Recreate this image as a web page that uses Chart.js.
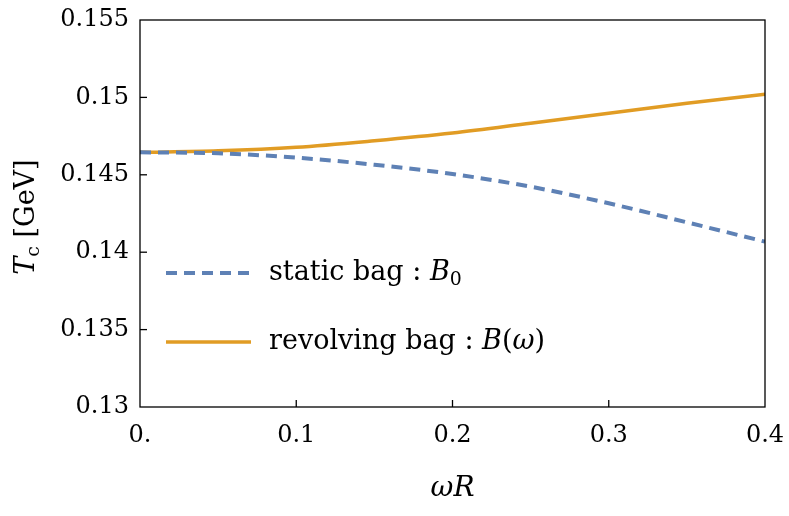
<!DOCTYPE html>
<html lang="en">
<head>
    <meta charset="UTF-8">
    <title>Tc vs omega R</title>
    <style>
        body { margin: 0; background: #fff; }
        canvas { display: block; }
    </style>
</head>
<body>
    <canvas id="myChart" width="789" height="516"></canvas>

    <script src="https://cdn.jsdelivr.net/npm/chart.js"></script>
    <script>
        // data
        const omegaR = [0, 0.05, 0.1, 0.15, 0.2, 0.25, 0.3, 0.35, 0.4];
        const tcStatic = [0.14645, 0.14639, 0.14611, 0.14565, 0.14505, 0.14423, 0.14316, 0.14193, 0.14068];
        const tcRevolving = [0.14645, 0.14655, 0.14678, 0.1472, 0.1477, 0.14833, 0.14897, 0.14962, 0.1502];
        const xTicks = [0, 0.1, 0.2, 0.3, 0.4];
        const yTicks = [0.13, 0.135, 0.14, 0.145, 0.15, 0.155];

        const BLUE = '#5e81b5';
        const ORANGE = '#e19c24';
        const SERIF = '"DejaVu Serif", "Liberation Serif", serif';
        const FS = 24;   // tick labels
        const FS_TEXT = 27; // legend and titles

        // draws a run of text pieces with mixed styles, returns width
        function drawPieces(ctx, pieces, x, y, size, measureOnly) {
            let cx = x;
            pieces.forEach(p => {
                const s = p.sub ? size * 0.7 : size;
                ctx.font = (p.italic ? 'italic ' : '') + s + 'px ' + SERIF;
                if (!measureOnly) {
                    ctx.fillText(p.t, cx, p.sub ? y + size * 0.25 : y);
                }
                cx += ctx.measureText(p.t).width;
            });
            return cx - x;
        }

        const framePlugin = {
            id: 'frame',
            afterDraw(chart) {
                const ctx = chart.ctx;
                const a = chart.chartArea;
                const xs = chart.scales.x, ys = chart.scales.y;
                ctx.save();
                ctx.strokeStyle = '#000';
                ctx.lineWidth = 1.3;
                ctx.strokeRect(a.left, a.top, a.right - a.left, a.bottom - a.top);
                // inward ticks
                xTicks.slice(1, -1).forEach(v => {
                    const px = xs.getPixelForValue(v);
                    ctx.beginPath();
                    ctx.moveTo(px, a.bottom);
                    ctx.lineTo(px, a.bottom - 7);
                    ctx.stroke();
                });
                yTicks.slice(1, -1).forEach(v => {
                    const py = ys.getPixelForValue(v);
                    ctx.beginPath();
                    ctx.moveTo(a.left, py);
                    ctx.lineTo(a.left + 7, py);
                    ctx.stroke();
                });

                // legend
                ctx.fillStyle = '#000';
                ctx.textBaseline = 'middle';
                ctx.textAlign = 'left';
                const rows = [
                    { color: BLUE, dash: [11, 7], width: 4, y: 273,
                      pieces: [{ t: 'static bag : ' }, { t: 'B', italic: true }, { t: '0', sub: true }] },
                    { color: ORANGE, dash: [], width: 3.5, y: 342,
                      pieces: [{ t: 'revolving bag : ' }, { t: 'B', italic: true }, { t: '(' }, { t: 'ω', italic: true }, { t: ')' }] }
                ];
                rows.forEach(r => {
                    ctx.strokeStyle = r.color;
                    ctx.lineWidth = r.width;
                    ctx.setLineDash(r.dash);
                    ctx.beginPath();
                    ctx.moveTo(166, r.y);
                    ctx.lineTo(251, r.y);
                    ctx.stroke();
                    ctx.setLineDash([]);
                    drawPieces(ctx, r.pieces, 269, r.y, FS_TEXT);
                });

                // y axis title
                const yt = [{ t: 'T', italic: true }, { t: 'c', sub: true }, { t: ' [GeV]' }];
                ctx.translate(27, 217);
                ctx.rotate(-Math.PI / 2);
                const w = drawPieces(ctx, yt, 0, 0, FS_TEXT, true);
                drawPieces(ctx, yt, -w / 2, 0, FS_TEXT);
                ctx.restore();
            }
        };

        const ctx = document.getElementById('myChart').getContext('2d');
        new Chart(ctx, {
            type: 'line',
            data: {
                datasets: [
                    {
                        label: 'static bag : B0',
                        data: omegaR.map((x, i) => ({ x: x, y: tcStatic[i] })),
                        borderColor: BLUE,
                        borderWidth: 4,
                        borderDash: [11, 7],
                        pointRadius: 0,
                        cubicInterpolationMode: 'monotone',
                        fill: false
                    },
                    {
                        label: 'revolving bag : B(ω)',
                        data: omegaR.map((x, i) => ({ x: x, y: tcRevolving[i] })),
                        borderColor: ORANGE,
                        borderWidth: 3.5,
                        pointRadius: 0,
                        cubicInterpolationMode: 'monotone',
                        fill: false
                    }
                ]
            },
            options: {
                responsive: false,
                animation: false,
                layout: { padding: { left: 0, right: 24, top: 20, bottom: 0 } },
                plugins: {
                    legend: { display: false },
                    tooltip: { enabled: false }
                },
                scales: {
                    x: {
                        type: 'linear',
                        min: 0,
                        max: 0.4,
                        afterBuildTicks: s => { s.ticks = xTicks.map(v => ({ value: v })); },
                        afterFit: s => {
                            s.height = 109;
                            s.paddingLeft = 0;
                            s.paddingRight = 0;
                        },
                        grid: { display: false, drawTicks: false },
                        border: { display: false },
                        ticks: {
                            padding: 14,
                            color: '#000',
                            maxRotation: 0,
                            font: { family: SERIF, size: FS },
                            callback: v => v === 0 ? '0.' : v.toFixed(1)
                        },
                        title: {
                            display: true,
                            text: 'ωR',
                            color: '#000',
                            padding: { top: 0, bottom: 10 },
                            font: { family: SERIF, size: 28, style: 'italic' }
                        }
                    },
                    y: {
                        min: 0.13,
                        max: 0.155,
                        afterBuildTicks: s => { s.ticks = yTicks.map(v => ({ value: v })); },
                        afterFit: s => {
                            s.width = 140;
                            s.paddingTop = 0;
                            s.paddingBottom = 0;
                        },
                        grid: { display: false, drawTicks: false },
                        border: { display: false },
                        ticks: {
                            padding: 11,
                            color: '#000',
                            font: { family: SERIF, size: FS },
                            callback: v => String(parseFloat(v.toFixed(3)))
                        }
                    }
                }
            },
            plugins: [framePlugin]
        });
    </script>
</body>
</html>
